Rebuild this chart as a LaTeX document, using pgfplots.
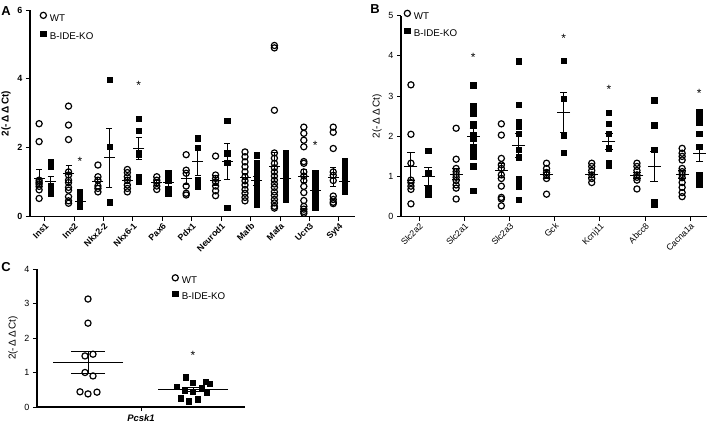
\documentclass[border=0pt]{standalone}
\usepackage{fontspec}
\setmainfont{Liberation Sans}
\usepackage{pgfplots}
\pgfplotsset{compat=1.18}
\pgfplotsset{
 gp/.style={scale only axis, axis lines=left, axis line style={-, line width=1.1pt}, tick align=outside,
   major tick length=4bp, tick style={line width=1pt, black}, /pgf/number format/assume math mode=true, clip=false,
   legend cell align=left,
   legend image code/.code={\draw[##1] plot coordinates {(0bp,3.3bp)};}},
 wt/.style={only marks, mark=o, mark size=3.1pt, mark options={line width=1.2pt, black}},
 ko/.style={only marks, mark=square*, mark size=2.7pt, black},
 mean/.style 2 args={only marks, mark=-, mark size=#1, mark options={line width=1pt}, black,
   error bars/.cd, y dir=both, y explicit, error mark=|, error bar style={line width=1pt}, error mark options={mark size=#2, line width=1pt}, /pgfplots/.cd},
 lgd/.style={legend style={at={#1}, anchor=north west, draw=none, fill=none,
    font=\fontsize{9.8}{11}\selectfont, row sep=6bp, column sep=2bp, inner sep=0pt, nodes={inner sep=1.5bp}}},
}
\tikzset{astar/.style={font=\fontsize{12}{12}\selectfont, anchor=center}}
\begin{document}
\begin{tikzpicture}
\path[use as bounding box] (0,0) rectangle (713bp,426bp);
% ---------------- Panel A
\begin{axis}[gp, at={(30bp,209.3bp)}, anchor=south west, width=325bp, height=206.7bp,
  xmin=-0.5, xmax=10.55, ymin=0, ymax=6, ytick={0,2,4,6}, xtick={0,...,10},
  xticklabels={Ins1,Ins2,Nkx2-2,Nkx6-1,Pax6,Pdx1,Neurod1,Mafb,Mafa,Ucn3,Syt4},
  xticklabel style={rotate=45, anchor=north east, inner sep=1bp, font=\bfseries\fontsize{8.8}{9}\selectfont},
  yticklabel style={font=\bfseries\fontsize{9}{10}\selectfont},
  ylabel={2(-\,Δ\,Δ\,Ct)}, ylabel style={font=\bfseries\fontsize{10}{11}\selectfont},
  lgd={(axis description cs:0.031,0.99)}, legend style={row sep=7bp}]
\addplot[wt] coordinates {
(-0.19,2.7)(-0.19,2.18)(-0.19,1.06)(-0.19,1.0)(-0.19,0.95)(-0.19,0.88)(-0.19,0.78)(-0.19,0.53)
(0.81,3.21)(0.81,2.66)(0.81,2.24)(0.81,1.3)(0.81,1.21)(0.81,1.06)(0.81,0.99)(0.81,0.85)(0.81,0.77)(0.81,0.58)(0.81,0.46)(0.81,0.39)
(1.81,1.5)(1.81,1.16)(1.81,1.06)(1.81,0.89)(1.81,0.82)(1.81,0.72)
(2.81,1.37)(2.81,1.28)(2.81,1.16)(2.81,1.06)(2.81,0.92)(2.81,0.82)(2.81,0.72)
(3.81,1.16)(3.81,1.06)(3.81,0.99)(3.81,0.89)(3.81,0.79)
(4.81,1.8)(4.81,1.35)(4.81,1.26)(4.81,0.89)(4.81,0.68)(4.81,0.63)
(5.81,1.76)(5.81,1.21)(5.81,1.11)(5.81,1.01)(5.81,0.89)(5.81,0.75)(5.81,0.61)
(6.81,1.88)(6.81,1.74)(6.81,1.59)(6.81,1.45)(6.81,1.30)(6.81,1.16)(6.81,1.04)(6.81,0.92)(6.81,0.79)(6.81,0.68)(6.81,0.56)(6.81,0.46)
(7.81,4.97)(7.81,4.9)(7.81,3.09)(7.81,1.85)(7.81,1.7)(7.81,1.55)(7.81,1.42)(7.81,1.3)(7.81,1.18)(7.81,1.06)(7.81,0.95)(7.81,0.85)(7.81,0.72)(7.81,0.62)(7.81,0.5)(7.81,0.4)(7.81,0.3)(7.81,0.25)
(8.81,2.6)(8.81,2.42)(8.81,2.22)(8.81,2.03)(8.81,1.6)(8.81,1.55)(8.81,1.3)(8.81,1.18)(8.81,1.05)(8.81,0.88)(8.81,0.7)(8.81,0.47)(8.81,0.3)(8.81,0.22)(8.81,0.15)(8.81,0.1)
(9.81,2.6)(9.81,2.45)(9.81,1.98)(9.81,1.3)(9.81,1.2)(9.81,1.05)(9.81,0.6)(9.81,0.5)(9.81,0.42)(9.81,0.38)
};
\addlegendentry{WT}
\addplot[ko] coordinates {
(0.2,1.58)(0.2,1.45)(0.2,0.9)(0.2,0.78)(0.2,0.68)
(1.2,0.72)(1.2,0.58)(1.2,0.43)(1.2,0.29)
(2.2,3.98)(2.2,2.03)(2.2,0.42)(2.2,0.4)
(3.2,2.85)(3.2,2.5)(3.2,1.86)(3.2,1.8)(3.2,1.15)(3.2,1.02)
(4.2,1.26)(4.2,1.06)(4.2,0.82)(4.2,0.68)
(5.2,2.28)(5.2,2.0)(5.2,1.06)(5.2,0.88)
(6.2,2.78)(6.2,1.84)(6.2,1.57)(6.2,0.27)
(7.2,1.78)(7.2,1.55)(7.2,1.4)(7.2,1.3)(7.2,1.2)(7.2,1.1)(7.2,1.0)(7.2,0.9)(7.2,0.8)(7.2,0.7)(7.2,0.6)(7.2,0.5)(7.2,0.4)(7.2,0.35)
(8.2,1.84)(8.2,1.7)(8.2,1.55)(8.2,1.4)(8.2,1.28)(8.2,1.15)(8.2,1.03)(8.2,0.92)(8.2,0.8)(8.2,0.7)(8.2,0.6)(8.2,0.5)
(9.2,1.27)(9.2,1.15)(9.2,1.02)(9.2,0.9)(9.2,0.78)(9.2,0.66)(9.2,0.55)(9.2,0.45)(9.2,0.35)(9.2,0.28)
(10.2,1.62)(10.2,1.45)(10.2,1.3)(10.2,1.2)(10.2,1.1)(10.2,1.0)(10.2,0.9)(10.2,0.8)(10.2,0.72)
};
\addlegendentry{B-IDE-KO}
\addplot[forget plot, mean={5.5bp}{3bp}] coordinates {
(-0.19,1.12) +- (0,0.24) (0.81,1.25) +- (0,0.25) (1.81,1.02) +- (0,0.12) (2.81,1.05) +- (0,0.09)
(3.81,0.98) +- (0,0.07) (4.81,1.1) +- (0,0.17) (5.81,1.05) +- (0,0.14) (6.81,1.13) +- (0,0.13)
(7.81,1.45) +- (0,0.42) (8.81,1.17) +- (0,0.19) (9.81,1.15) +- (0,0.28)
(0.2,1.02) +- (0,0.16) (1.2,0.45) +- (0,0.1) (2.2,1.71) +- (0,0.85) (3.2,1.98) +- (0,0.32)
(4.2,0.98) +- (0,0.12) (5.2,1.6) +- (0,0.4) (6.2,1.61) +- (0,0.52) (7.2,1.04) +- (0,0.12)
(8.2,1.12) +- (0,0.12) (9.2,0.76) +- (0,0.1) (10.2,1.02) +- (0,0.1)
};
\node[astar] at (axis cs:1.2,1.6) {*};
\node[astar] at (axis cs:3.2,3.8) {*};
\node[astar] at (axis cs:9.2,2.08) {*};
\end{axis}
% ---------------- Panel B
\begin{axis}[gp, at={(401bp,209.3bp)}, anchor=south west, width=306bp, height=201bp,
  xmin=-0.4, xmax=6.37, ymin=0, ymax=5, ytick={0,...,5}, xtick={0,...,6},
  xticklabels={Slc2a2,Slc2a1,Slc2a3,Gck,Kcnj11,Abcc8,Cacna1a},
  xticklabel style={rotate=45, anchor=north east, inner sep=1bp, font=\fontsize{8.8}{9}\selectfont},
  yticklabel style={font=\fontsize{9}{10}\selectfont},
  ylabel={2(-\,Δ\,Δ\,Ct)}, ylabel style={font=\fontsize{10}{11}\selectfont},
  lgd={(axis description cs:0.01,1.028)}]
\addplot[wt] coordinates {
(-0.18,3.28)(-0.18,2.05)(-0.18,1.33)(-0.18,0.91)(-0.18,0.85)(-0.18,0.76)(-0.18,0.68)(-0.18,0.32)
(0.82,2.2)(0.82,1.43)(0.82,1.2)(0.82,1.12)(0.82,1.05)(0.82,0.98)(0.82,0.9)(0.82,0.79)(0.82,0.71)(0.82,0.44)
(1.82,2.31)(1.82,2.03)(1.82,1.45)(1.82,1.29)(1.82,1.2)(1.82,1.04)(1.82,0.95)(1.82,0.76)(1.82,0.48)(1.82,0.44)(1.82,0.27)
(2.82,1.33)(2.82,1.2)(2.82,1.1)(2.82,1.04)(2.82,0.95)(2.82,0.56)
(3.82,1.33)(3.82,1.25)(3.82,1.15)(3.82,1.04)(3.82,0.95)(3.82,0.85)
(4.82,1.33)(4.82,1.25)(4.82,1.15)(4.82,1.04)(4.82,0.98)(4.82,0.91)(4.82,0.69)
(5.82,1.7)(5.82,1.58)(5.82,1.5)(5.82,1.41)(5.82,1.2)(5.82,1.12)(5.82,1.05)(5.82,0.97)(5.82,0.85)(5.82,0.73)(5.82,0.6)(5.82,0.5)
};
\addlegendentry{WT}
\addplot[ko] coordinates {
(0.2,1.64)(0.2,1.08)(0.2,0.71)(0.2,0.56)
(1.2,3.27)(1.2,2.75)(1.2,2.57)(1.2,2.3)(1.2,2.03)(1.2,1.95)(1.2,1.74)(1.2,1.58)(1.2,1.5)(1.2,1.26)(1.2,0.65)
(2.2,3.87)(2.2,2.78)(2.2,2.36)(2.2,2.24)(2.2,2.07)(2.2,1.66)(2.2,1.48)(2.2,0.93)(2.2,0.76)(2.2,0.42)
(3.2,3.88)(3.2,2.93)(3.2,2.03)(3.2,1.59)
(4.2,2.59)(4.2,2.31)(4.2,2.06)(4.2,1.7)(4.2,1.33)(4.2,1.27)
(5.2,2.9)(5.2,2.28)(5.2,1.66)(5.2,0.37)(5.2,0.34)(5.2,0.3)
(6.2,2.6)(6.2,2.48)(6.2,2.35)(6.2,2.07)(6.2,1.74)(6.2,1.05)(6.2,0.95)(6.2,0.87)(6.2,0.8)
};
\addlegendentry{B-IDE-KO}
\addplot[forget plot, mean={6.5bp}{3.7bp}] coordinates {
(-0.18,1.25) +- (0,0.35) (0.82,1.06) +- (0,0.13) (1.82,1.15) +- (0,0.18) (2.82,1.05) +- (0,0.11)
(3.82,1.04) +- (0,0.07) (4.82,1.03) +- (0,0.08) (5.82,1.06) +- (0,0.1)
(0.2,1.0) +- (0,0.22) (1.2,2.0) +- (0,0.2) (2.2,1.77) +- (0,0.3) (3.2,2.6) +- (0,0.5)
(4.2,1.88) +- (0,0.2) (5.2,1.25) +- (0,0.38) (6.2,1.58) +- (0,0.2)
};
\node[astar] at (axis cs:1.2,3.97) {*};
\node[astar] at (axis cs:3.2,4.43) {*};
\node[astar] at (axis cs:4.2,3.16) {*};
\node[astar] at (axis cs:6.2,3.06) {*};
\end{axis}
% ---------------- Panel C
\begin{axis}[gp, at={(37bp,19bp)}, anchor=south west, width=208bp, height=138bp,
  xmin=37, xmax=245, ymin=0, ymax=4, ytick={0,...,4}, xtick={141},
  xticklabels={\textbf{\textit{Pcsk1}}},
  xticklabel style={font=\fontsize{9.5}{10}\selectfont},
  yticklabel style={font=\fontsize{9}{10}\selectfont},
  ylabel={2(-\,Δ\,Δ\,Ct)}, ylabel style={font=\fontsize{10}{11}\selectfont},
  lgd={(axis cs:172,3.84)}, legend style={row sep=4.5bp}]
\addplot[wt] coordinates {
(88,3.13)(88,2.43)(85,1.48)(93,1.53)(85,1.0)(93,0.9)(80,0.44)(88,0.38)(97,0.43)
};
\addlegendentry{WT}
\addplot[ko] coordinates {
(186,0.86)(177,0.59)(193,0.7)(206,0.73)(210,0.67)(185,0.49)(193,0.44)(202,0.54)(207,0.41)(181,0.25)(189,0.17)(198,0.23)
};
\addlegendentry{B-IDE-KO}
\addplot[forget plot, mean={35bp}{17bp}] coordinates {(88,1.29) +- (0,0.32)};
\addplot[forget plot, mean={35bp}{10bp}] coordinates {(193,0.51) +- (0,0.05)};
\node[astar] at (axis cs:193,1.5) {*};
\end{axis}
\node[font=\bfseries\fontsize{13}{14}\selectfont] at (6bp,415bp) {A};
\node[font=\bfseries\fontsize{13}{14}\selectfont] at (375bp,417bp) {B};
\node[font=\bfseries\fontsize{13}{14}\selectfont] at (6bp,159bp) {C};
\end{tikzpicture}
\end{document}
